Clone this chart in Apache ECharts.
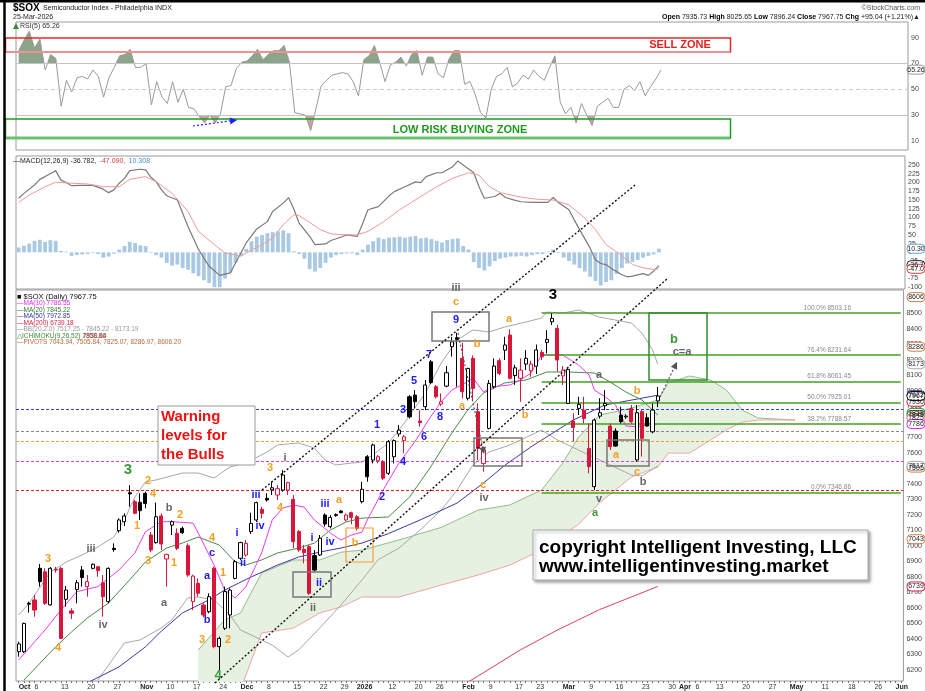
<!DOCTYPE html>
<html>
<head>
<meta charset="utf-8">
<script src="https://cdn.jsdelivr.net/npm/echarts@6/dist/echarts.min.js"></script>
<style>
html,body{margin:0;padding:0;background:#fff}
#main{width:925px;height:691px}
</style>
</head>
<body>
<div id="main"></div>
<script>
// ---- daily candles, Oct 1 2025 .. Mar 26 2026 : [open, high, low, close]
var ohlc = [
 [6318,6383,6286,6368],[6318,6505,6310,6501],[6630,6641,6570,6625],[6652,6684,6544,6587],[6856,6884,6738,6770],
 [6834,6856,6620,6630],[6620,6864,6615,6856],[6850,6866,6828,6845],[6856,6866,6400,6404],[6656,6742,6609,6716],
 [6581,6598,6529,6566],[6720,6781,6630,6763],[6845,6871,6738,6796],[6738,6813,6673,6770],[6856,6888,6850,6882],
 [6866,6870,6802,6841],[6763,6813,6544,6673],[6641,6862,6630,6856],[6985,7017,6963,6977],[7099,7178,7086,7168],
 [7157,7211,7129,7194],[7344,7393,7254,7336],[7286,7297,7206,7211],[7282,7340,7168,7228],[7340,7350,7243,7275],
 [7071,7090,6960,6974],[7022,7280,7015,7189],[7194,7211,6974,7013],[6916,6950,6738,6946],[7135,7165,7071,7157],
 [7082,7114,6974,6985],[7114,7125,7077,7086],[7002,7017,6802,6813],[6641,6815,6587,6806],[6759,6791,6673,6695],
 [6619,6630,6540,6555],[6576,6695,6566,6673],[6856,6867,6340,6351],[6351,6415,6179,6404],[6469,6738,6458,6706],
 [6555,6727,6469,6716],[6791,6910,6785,6899],[6921,7028,6910,7022],[6942,7039,6931,7017],[7093,7215,7078,7146],
 [7168,7286,7157,7280],[7237,7254,7178,7211],[7308,7340,7286,7297],[7362,7415,7329,7376],[7329,7394,7297,7370],
 [7361,7490,7351,7458],[7361,7415,7329,7409],[7301,7329,6985,7028],[7093,7103,6963,6974],[6979,7007,6888,6957],
 [6996,7007,6684,6695],[6938,6974,6834,6845],[6942,7071,6936,7050],[7200,7211,7125,7142],[7125,7200,7114,7185],
 [7196,7211,7189,7203],[7226,7232,7211,7215],[7168,7210,7160,7200],[7215,7222,7140,7185],[7189,7200,7100,7114],
 [7286,7415,7275,7366],[7576,7587,7415,7447],[7555,7662,7533,7652],[7550,7587,7533,7576],[7544,7555,7426,7437],
 [7469,7684,7458,7673],[7576,7688,7533,7680],[7723,7781,7705,7748],[7680,7716,7598,7705],[7963,7974,7823,7834],
 [7974,8006,7888,7931],[7807,7877,7770,7796],[7899,8071,7877,8039],[8189,8200,8045,8054],[8028,8039,7953,7963],
 [7916,7985,7903,7931],[8032,8161,8024,8118],[8286,8350,8222,8318],[8344,8376,8028,8333],[8211,8312,7953,7996],
 [7953,8150,7940,8146],[8211,8230,7940,8017],[7867,7920,7555,7630],[7533,7641,7480,7620],[7759,8071,7753,8049],
 [8028,8211,8017,8161],[8196,8211,8103,8114],[8264,8350,8200,8297],[8361,8398,8075,8082],[8100,8170,8040,8150],
 [8082,8211,7931,8135],[8174,8264,8135,8211],[8131,8195,8092,8174],[8160,8300,8110,8265],[8249,8265,8200,8221],
 [8314,8393,8243,8333],[8447,8501,8426,8469],[8404,8426,8125,8200],[8097,8161,8039,8135],[7920,8146,7916,8140],
 [7806,7856,7673,7765],[7888,7963,7845,7914],[7877,7963,7791,7823],[7630,7791,7469,7512],[7383,7823,7361,7813],
 [7838,7953,7823,7860],[7905,8006,7877,7920],[7774,7791,7619,7641],[7742,7760,7640,7645],[7845,7899,7791,7802],
 [7833,7850,7820,7838],[7888,7910,7791,7802],[7555,7910,7544,7860],[7867,7877,7577,7695],[7828,7856,7770,7774],
 [7737,7920,7727,7877],[7936,8026,7896,7968]
];

// ---- overlays: [day index, value]
var ma10 = [[0,6265],[5,6458],[8,6587],[11,6705],[15,6738],[19,6845],[22,6955],[24,7092],[27,7157],[29,7157],[33,7148],[34,7084],[37,6877],[39,6716],[41,6665],[43,6736],[46,6955],[48,7168],[50,7245],[52,7264],[54,7252],[56,7168],[59,7084],[61,7039],[63,7071],[65,7090],[66,7168],[69,7361],[72,7535],[75,7673],[78,7834],[80,7931],[82,8006],[85,8060],[86,8084],[88,7995],[90,8028],[93,8039],[95,8071],[97,8116],[99,8232],[103,8232],[106,8168],[108,8103],[109,8006],[111,7963],[113,7910],[115,7774],[117,7770],[119,7781],[121,7787]];
var ma20 = [[1,6135],[7,6349],[10,6445],[13,6535],[17,6632],[21,6781],[24,6897],[28,6987],[31,7019],[34,7058],[38,7006],[41,6897],[43,6877],[46,6910],[49,6955],[53,6987],[56,7019],[59,7103],[62,7155],[65,7180],[70,7187],[74,7316],[78,7510],[82,7729],[85,7877],[88,7987],[92,8052],[96,8071],[100,8123],[104,8123],[109,8116],[112,8058],[115,7993],[118,7942],[121,7845]];
var ma50 = [[12,6100],[19,6220],[24,6349],[27,6450],[31,6568],[36,6652],[39,6716],[44,6800],[49,6877],[53,6929],[57,6961],[61,6987],[65,7019],[70,7080],[76,7168],[83,7277],[88,7406],[92,7520],[97,7640],[105,7813],[111,7910],[121,7973]];
var ma200 = [[85,6120],[95,6330],[102,6458],[110,6590],[121,6739]];
var bbUpper = [[0,6555],[2,6632],[6,6832],[9,6897],[12,6942],[15,6994],[18,7058],[20,7168],[22,7316],[24,7413],[26,7426],[31,7471],[34,7471],[37,7439],[40,7510],[43,7535],[47,7606],[49,7652],[53,7665],[56,7632],[58,7555],[60,7523],[63,7535],[65,7542],[67,7587],[70,7665],[73,7793],[77,7987],[80,8181],[83,8329],[86,8394],[89,8381],[92,8413],[96,8445],[99,8471],[100,8510],[103,8503],[106,8523],[110,8477],[113,8458],[116,8439],[118,8374],[120,8265],[121,8173]];
var bbLower = [[15,6135],[20,6374],[23,6394],[27,6471],[29,6523],[32,6665],[34,6671],[37,6652],[40,6555],[42,6458],[44,6426],[48,6361],[51,6284],[53,6329],[57,6471],[61,6619],[65,6781],[68,6910],[72,6987],[76,7103],[80,7232],[83,7361],[86,7523],[89,7606],[93,7652],[99,7748],[102,7684],[108,7587],[112,7523],[116,7458],[118,7452],[121,7517]];
var cloudIdx = [34,39,42,46,52,57,61,65,72,80,87,93,99,103,106,110,116,121,123,127,131,134,137,140,147];
var spanA = [6329,6523,6568,6826,6910,6910,6960,6974,7039,7120,7232,7265,7361,7535,7703,7845,7890,7942,8052,8097,8071,8006,7877,7826,7813];
var spanB = [6000,6050,6071,6439,6470,6568,6606,6671,6671,6748,6813,6877,6974,7071,7140,7280,7445,7510,7600,7600,7684,7750,7800,7813,7813];

// ---- RSI(5), one value per day
var rsi5 = [80,88,95,82,89,65,77,74,37,57,48,59,60,58,65,60,44,59,67,76,77,81,67,67,70,38,56,44,39,56,40,50,36,35,29,24,30,24,31,52,53,66,71,72,76,81,73,77,80,80,84,71,32,31,30,18,35,53,57,61,62,63,62,56,45,73,76,84,71,56,69,71,75,68,77,80,61,75,75,62,59,73,80,80,54,56,46,32,28,50,60,62,67,52,55,61,58,65,60,57,67,76,40,31,36,24,39,30,22,37,40,43,36,36,50,53,49,56,45,52,58,65.26];

// ---- MACD(12,26,9)
var macdLine = [[0,155],[1,169],[3,193],[4,209],[5,217],[7,234],[8,207],[9,200],[10,191],[12,192],[14,192],[16,181],[17,171],[18,179],[19,198],[20,212],[21,234],[23,238],[24,236],[25,215],[26,202],[27,179],[28,162],[30,150],[32,74],[34,8],[36,-40],[38,-66],[40,-59],[41,-30],[42,-2],[43,27],[45,67],[47,88],[48,117],[50,141],[51,157],[52,124],[53,84],[55,46],[56,22],[58,24],[59,34],[61,44],[62,50],[64,46],[65,82],[66,122],[68,131],[70,162],[71,174],[73,188],[75,202],[76,200],[77,217],[79,228],[80,228],[82,245],[83,262],[84,250],[86,228],[87,188],[88,155],[90,160],[91,169],[92,157],[94,148],[95,145],[97,143],[100,143],[101,157],[102,143],[104,122],[105,93],[106,65],[108,12],[109,-21],[110,-32],[111,-35],[112,-46],[114,-64],[115,-70],[116,-68],[118,-61],[119,-66],[120,-54],[121,-38]];
var macdSignal = [[0,143],[2,164],[5,188],[7,201],[10,198],[13,196],[16,188],[19,188],[21,209],[24,217],[26,202],[29,169],[32,117],[34,60],[37,22],[39,-2],[42,-11],[43,-2],[46,22],[48,41],[50,79],[52,108],[53,105],[55,86],[57,65],[59,53],[62,50],[64,50],[66,60],[69,88],[72,122],[76,160],[79,188],[82,212],[85,228],[87,221],[89,188],[91,171],[95,158],[98,152],[101,150],[104,136],[107,98],[109,65],[111,22],[114,-9],[116,-35],[118,-44],[120,-49],[121,-47]];
var macdHist = [14,19,25,33,36,30,35,33,4,2,-10,-8,-6,-5,-2,-5,-15,-12,-4,8,18,30,27,20,18,-2,-8,-15,-30,-38,-35,-45,-50,-60,-68,-80,-88,-100,-100,-75,-58,-30,-10,10,32,45,50,55,58,60,63,55,3,-5,-18,-48,-55,-45,-30,-15,-8,-5,-3,-3,-8,8,22,32,42,38,42,43,45,42,45,47,40,42,38,33,28,35,38,40,18,8,-28,-45,-52,-40,-25,-18,-15,-12,-12,-10,-12,-8,-5,-5,2,8,-2,-15,-25,-35,-45,-55,-70,-82,-95,-85,-80,-62,-45,-32,-28,-22,-15,-10,-6,10.31];

// ---- levels
var fibNames = ['100.0%','76.4%','61.8%','50.0%','38.2%','0.0%'];
var fibLevels = [8503.16,8231.64,8061.45,7925.01,7788.57,7346.86];
var warnLevels = [7884,7742,7673,7544,7357];
var warnColors = ['#3b3bff','#8a8a8a','#f5a030','#e040e0','#e52020'];

// ---- axis ticks
var rsiTicks = [10,30,50,70,90];
var macdTicks = [-100,-75,-50,-25,0,25,50,75,100,125,150,175,200,225,250];
var priceTicks = [6200,6300,6400,6500,6600,6700,6800,6900,7000,7100,7200,7300,7400,7500,7600,7700,7800,7900,8000,8100,8200,8300,8400,8500,8600];

var holidays = ['2025-11-27','2025-12-25','2026-01-01','2026-01-19','2026-02-16','2026-04-03','2026-05-25'];
var MON = ['Jan','Feb','Mar','Apr','May','Jun','Jul','Aug','Sep','Oct','Nov','Dec'];

function tradingDays(n){
  var out = [], d = new Date(Date.UTC(2025,9,1));
  while(out.length < n){
    var wd = d.getUTCDay(), s = d.toISOString().slice(0,10);
    if(wd > 0 && wd < 6 && holidays.indexOf(s) < 0) out.push(s);
    d.setUTCDate(d.getUTCDate()+1);
  }
  return out;
}
var dates = tradingDays(168);

var lastMonthIdx = -9;
var xLabels = dates.map(function(s,i){
  var d = new Date(s+'T00:00:00Z'), m = d.getUTCMonth();
  if(i === 0 || new Date(dates[i-1]+'T00:00:00Z').getUTCMonth() !== m){
    lastMonthIdx = i;
    return '{b|' + (m === 0 ? d.getUTCFullYear() : MON[m]) + '}';
  }
  var p = new Date(dates[i-1]+'T00:00:00Z');
  var newWeek = d.getUTCDay() < p.getUTCDay() || (d - p) > 3*86400000;
  if(newWeek && i - lastMonthIdx === 2) return '{p|' + d.getUTCDate() + '}';
  if(newWeek && i - lastMonthIdx > 2) return String(d.getUTCDate());
  return '';
});

var RED = '#d9153b';
var candleData = ohlc.map(function(d,i){
  var o=d[0], h=d[1], l=d[2], c=d[3];
  var prev = i > 0 ? ohlc[i-1][3] : o;
  var col = c < prev ? RED : '#000';
  var fill = c >= o ? '#fff' : col;
  return {value:[o,c,l,h], itemStyle:{color:fill, color0:fill, borderColor:col, borderColor0:col, borderWidth:1}};
});

var cloudBase = cloudIdx.map(function(x,i){ return [x, Math.min(spanA[i],spanB[i])]; });
var cloudBand = cloudIdx.map(function(x,i){ return [x, Math.abs(spanA[i]-spanB[i])]; });
var spanAPts = cloudIdx.map(function(x,i){ return [x, spanA[i]]; });
var spanBPts = cloudIdx.map(function(x,i){ return [x, spanB[i]]; });

var FONT = '"Liberation Sans", Arial, sans-serif';
var G = {left:16, right:17};

function ln(name, data, color, w, grid){
  return {name:name, type:'line', xAxisIndex:grid, yAxisIndex:grid, data:data, symbol:'none', showSymbol:false,
    silent:true, lineStyle:{color:color, width:w||1}, z:3};
}
function yAx(grid, min, max, ticks){
  return {type:'value', gridIndex:grid, position:'right', min:min, max:max, scale:true,
    axisLine:{show:false}, axisTick:{show:false}, splitLine:{show:false},
    axisLabel:{customValues:ticks, fontSize:7, color:'#444', margin:3, fontFamily:FONT,
      formatter:function(v){ return String(v); }}};
}
function xAx(grid, showLab){
  return {type:'category', gridIndex:grid, data:dates, boundaryGap:true,
    axisLine:{show:false},
    axisTick:{show:showLab, interval:0, alignWithLabel:true, length:2, lineStyle:{color:'#777'}},
    axisLabel:{show:showLab, interval:0, fontSize:7, color:'#333', margin:3, align:'left', fontFamily:FONT,
      formatter:function(v,i){ return xLabels[i]; },
      rich:{b:{fontWeight:'bold', fontSize:7, color:'#222', fontFamily:FONT},
            p:{fontSize:7, color:'#333', fontFamily:FONT, padding:[0,0,0,6]}}}};
}

var fibMarks = fibLevels.map(function(v){
  return [{coord:[dates[99], v], lineStyle:{color:'#43a01f', width:1.5, type:'solid'}}, {coord:[dates[167], v]}];
});
var warnMarks = warnLevels.map(function(v,i){
  return {yAxis:v, lineStyle:{color:warnColors[i], width:1, type:[3,2]}};
});

var option = {
  animation:false,
  backgroundColor:'#fff',
  grid:[
    {left:G.left, right:G.right, top:22, height:128, show:true, borderColor:'#9a9a9a', borderWidth:1},
    {left:G.left, right:G.right, top:156, height:133, show:true, borderColor:'#9a9a9a', borderWidth:1},
    {left:G.left, right:G.right, top:290, height:391, show:true, borderColor:'#9a9a9a', borderWidth:1}
  ],
  xAxis:[xAx(0,false), xAx(1,false), xAx(2,true)],
  yAxis:[yAx(0,3.0,102.2,rsiTicks), yAx(1,-105,276,macdTicks), yAx(2,6129,8652,priceTicks)],
  visualMap:[
    {type:'piecewise', show:false, seriesIndex:1, dimension:1,
      pieces:[{min:70, max:150, color:'#8aa58a'},{min:-50, max:70, color:'rgba(255,255,255,0)'}]},
    {type:'piecewise', show:false, seriesIndex:2, dimension:1,
      pieces:[{min:-50, max:30, color:'#c9a2a2'},{min:30, max:150, color:'rgba(255,255,255,0)'}]}
  ],
  series:[
    // RSI
    {type:'line', xAxisIndex:0, yAxisIndex:0, data:rsi5, symbol:'none', silent:true, z:4,
      lineStyle:{color:'#9a9a9a', width:1},
      markLine:{silent:true, symbol:['none','none'], label:{show:false},
        data:[{yAxis:70, lineStyle:{color:'#c4c4c4', type:'solid', width:1}},
              {yAxis:30, lineStyle:{color:'#c4c4c4', type:'solid', width:1}},
              {yAxis:50, lineStyle:{color:'#cccccc', type:[4,3], width:1}}]}},
    {type:'line', xAxisIndex:0, yAxisIndex:0, data:rsi5, symbol:'none', silent:true, z:2,
      lineStyle:{opacity:0}, areaStyle:{origin:70, opacity:1}},
    {type:'line', xAxisIndex:0, yAxisIndex:0, data:rsi5, symbol:'none', silent:true, z:2,
      lineStyle:{opacity:0}, areaStyle:{origin:30, opacity:1}},
    // MACD
    {type:'bar', xAxisIndex:1, yAxisIndex:1, data:macdHist, barWidth:'72%', silent:true,
      itemStyle:{color:'#a9c9e3'}},
    ln('macd', macdLine, '#7a7a7a', 1.2, 1),
    ln('signal', macdSignal, '#f19a9a', 1, 1),
    // Ichimoku cloud
    {type:'line', xAxisIndex:2, yAxisIndex:2, data:cloudBase, stack:'cloud', symbol:'none', silent:true,
      lineStyle:{opacity:0}, z:1},
    {type:'line', xAxisIndex:2, yAxisIndex:2, data:cloudBand, stack:'cloud', symbol:'none', silent:true,
      lineStyle:{opacity:0}, areaStyle:{color:'#e6f1e1', opacity:1}, z:1},
    ln('spanA', spanAPts, '#8fbf8a', 1, 2),
    ln('spanB', spanBPts, '#efa3a8', 1, 2),
    ln('bbU', bbUpper, '#a8a8a8', 1, 2),
    ln('bbL', bbLower, '#a8a8a8', 1, 2),
    ln('ma200', ma200, '#e0405e', 1, 2),
    ln('ma50', ma50, '#3a3aa8', 1, 2),
    ln('ma20', ma20, '#4a8a4a', 1, 2),
    ln('ma10', ma10, '#f03cf0', 1, 2),
    {type:'candlestick', xAxisIndex:2, yAxisIndex:2, data:candleData, barWidth:3.6, silent:true, z:6,
      markLine:{silent:true, symbol:['none','none'], label:{show:false}, data:warnMarks.concat(fibMarks)}}
  ]
};

var chart = echarts.init(document.getElementById('main'));
chart.setOption(option);

function yp(ax, v){ return chart.convertToPixel({yAxisIndex:ax}, v); }

var g = [];
function txt(x,y,t,fill,font,align,z){
  g.push({type:'text', x:x, y:y, z:z||40, silent:true,
    style:{text:t, fill:fill, font:font, align:align||'center', verticalAlign:'middle'}});
}
function lab(x,y,t,c,s){ txt(x,y,t,c,'bold '+(s||11)+'px '+FONT,'center',42); }
function box(x,y,w,h,stroke,lw,fill,z){
  g.push({type:'rect', z:z||38, silent:true, shape:{x:x,y:y,width:w,height:h},
    style:{fill:fill||'none', stroke:stroke, lineWidth:lw||1}});
}
function seg(x1,y1,x2,y2,col,w,dash,z){
  g.push({type:'line', z:z||44, silent:true, shape:{x1:x1,y1:y1,x2:x2,y2:y2},
    style:{stroke:col, lineWidth:w||1, lineDash:dash||null}});
}
function arrow(x1,y1,x2,y2,col,dash,w){
  seg(x1,y1,x2,y2,col,w||1,dash);
  var a = Math.atan2(y2-y1,x2-x1), L = 7, W = 3.5;
  var bx = x2-L*Math.cos(a), by = y2-L*Math.sin(a);
  g.push({type:'polygon', z:45, silent:true, shape:{points:[[x2,y2],[bx+W*Math.sin(a),by-W*Math.cos(a)],[bx-W*Math.sin(a),by+W*Math.cos(a)]]},
    style:{fill:col}});
}
function tag(y,t,col){
  g.push({type:'rect', z:50, silent:true, shape:{x:907,y:y-4.5,width:18,height:9,r:4},
    style:{fill:'#fff', stroke:col, lineWidth:1}});
  txt(916,y,t,'#222','7px '+FONT,'center',51);
}

// frame
seg(0,1,925,1,'#000',3,null,60);
seg(4.5,0,4.5,691,'#000',2.5,null,60);

// header
g.push({type:'text', x:13, y:8, z:40, silent:true, style:{text:'{a|$SOX} {c|Semiconductor Index - Philadelphia INDX}',
  verticalAlign:'middle', rich:{a:{font:'bold 10px '+FONT, fill:'#000'}, c:{font:'7px '+FONT, fill:'#222'}}}});
txt(13,17,'25-Mar-2026','#222','7px '+FONT,'left');
txt(920,8,'\u00a9StockCharts.com','#555','7px '+FONT,'right');
g.push({type:'text', x:920, y:17, z:40, silent:true, style:{
  text:'{k|Open} 7935.73 {k|High} 8025.65 {k|Low} 7896.24 {k|Close} 7967.75 {k|Chg} +95.04 (+1.21%)\u25b2',
  align:'right', verticalAlign:'middle', font:'7px '+FONT, fill:'#222',
  rich:{k:{font:'bold 7px '+FONT, fill:'#000'}}}});

// RSI panel
txt(20,26,'RSI(5) 65.26','#333','7px '+FONT,'left');
g.push({type:'polygon', z:40, silent:true, shape:{points:[[13,29],[16,23],[19,29]]}, style:{fill:'#3a8a3a'}});
box(5.5,38,725,14,'#e52a2a',1.5);
seg(6,52,730,52,'#f09090',2);
txt(680,45,'SELL ZONE','#e52020','bold 11px '+FONT);
box(5.5,119,725,19,'#1f9a1f',1.5);
seg(6,138,730,138,'#6cc06c',3);
txt(460,130,'LOW RISK BUYING ZONE','#1f9a1f','bold 11px '+FONT);
arrow(193,126,237,120,'#2020ff',[2,2],1.2);

// MACD legend
g.push({type:'text', x:13, y:161, z:40, silent:true, style:{
  text:'{k|\u2014MACD(12,26,9) -36.782,} {r|-47.090,} {b|10.308}', verticalAlign:'middle',
  rich:{k:{font:'7px '+FONT, fill:'#222'}, r:{font:'7px '+FONT, fill:'#e23b3b'}, b:{font:'7px '+FONT, fill:'#4a90c8'}}}});

// price legend
var legY = 297, legStep = 6.5;
var legs = [
  ['\u25a0 $SOX (Daily) 7967.75','#111'],
  ['\u2014MA(10) 7786.55','#ee22ee'],
  ['\u2014MA(20) 7845.22','#2e7d32'],
  ['\u2014MA(50) 7972.85','#3333aa'],
  ['\u2014MA(200) 6739.18','#dd2244'],
  ['\u2014BB(20,2.0) 7517.25 - 7845.22 - 8173.19','#999'],
  ['\u25b3ICHIMOKU(9,26,52) 7858.86 ','#3a8a3a'],
  ['\u2014PIVOTS 7043.94, 7505.84, 7825.07, 8286.97, 8606.20','#bb6a3a']
];
legs.forEach(function(l,i){ txt(17, legY+i*legStep, l[0], l[1], (i===0?'7.5px ':'6.5px ')+FONT, 'left'); });
txt(83, legY+6*legStep, '7930.64', '#dd2244', '6.5px '+FONT, 'left');

// channel lines
seg(262,490,635,185,'#111',1.4,[2,2]);
seg(215,683,668,278,'#111',1.4,[2,2]);

// boxes
box(158,406,97,59,'#9a9a9a',1,'#fff',39);
txt(161,417,'Warning','#ee1111','bold 15px '+FONT,'left');
txt(161,436,'levels for','#ee1111','bold 15px '+FONT,'left');
txt(161,455,'the Bulls','#ee1111','bold 15px '+FONT,'left');
box(293,572,38,25,'#777',1.5);
box(346,528,27,34,'#f5a030',1.2);
box(432,312,57,29,'#777',1.5);
box(474,438,48,28,'#777',1.5);
box(607,440,42,26,'#777',1.5);
box(649,313,58,67,'#2f8f2f',1.5);
arrow(458,333,484,454,'#555',[2,2],1.2);
arrow(660,397,677,362,'#555',[2,2],1.2);

// fib labels
fibLevels.forEach(function(v,i){
  txt(851, yp(2,v)-5, fibNames[i]+' '+v.toFixed(2), '#888', '6.5px '+FONT, 'right');
});

// copyright
g.push({type:'rect', z:39, silent:true, shape:{x:533,y:530,width:335,height:50},
  style:{fill:'#fff', stroke:'#aaa', lineWidth:1, shadowBlur:3, shadowOffsetX:2, shadowOffsetY:2, shadowColor:'rgba(0,0,0,0.35)'}});
txt(539,548,'copyright Intelligent Investing, LLC','#000','bold 19px '+FONT,'left');
txt(539,567,'www.intelligentinvesting.market','#000','bold 19px '+FONT,'left');

// wave labels
var OR='#f5a020', BL='#1c1cff', GR='#666', GN='#3a9a3a';
[
 [128,470,'3',GN,15],[148,481,'2',OR],[153,494,'4',OR],[137,526,'1',OR],[169,508,'b',GR],
 [48,559,'3',OR],[91,549,'iii',GR],[148,561,'3',OR],[164,603,'a',GR],[103,625,'iv',GR],[58,648,'4',OR],
 [180,515,'2',OR],[174,563,'1',OR],[212,538,'4',OR],[212,553,'c',BL],[207,576,'a',BL],[223,573,'1',OR],
 [207,620,'b',BL],[202,640,'3',OR],[228,640,'2',OR],[218,675,'4',GN,13],[237,533,'i',BL],[243,563,'ii',BL],
 [270,468,'3',OR],[285,458,'i',GR],[256,495,'iii',BL],[260,526,'iv',BL],[280,508,'4',OR],[312,538,'i',BL],
 [319,583,'ii',BL],[313,608,'ii',GR],[325,504,'iii',BL],[339,500,'a',OR],[330,542,'iv',BL],[355,543,'b',OR],
 [377,425,'1',BL],[382,497,'2',BL],[403,410,'3',BL],[403,462,'4',BL],[414,381,'5',BL],[424,437,'6',BL],
 [429,355,'7',BL],[440,417,'8',BL],[456,320,'9',BL],[456,288,'iii',GR],[456,302,'c',OR],[477,344,'b',OR],
 [462,406,'a',OR],[509,319,'a',OR],[525,415,'b',OR],[483,485,'c',OR],[484,498,'iv',GR],
 [553,295,'3','#000',15],[599,375,'a',GR],[637,391,'b',OR],[616,455,'a',OR],[637,472,'c',OR],[643,482,'b',GR],
 [599,499,'v',GR],[595,513,'a',GN],[674,339,'b',GN,13],[682,352,'c=a',GR,11]
].forEach(function(l){ lab(l[0],l[1],l[2],l[3],l[4]); });

// right axis tags
tag(yp(0,65.26),'65.26','#999');
tag(yp(1,10.31),'10.30','#6aa5d5');
tag(yp(1,-36.78),'-36.7','#222');
tag(yp(1,-47.09),'-47.0','#e04040');
[[8606,'8606','#d08050'],[8286,'8286','#d08050'],[8173,'8173','#aaa'],[7973,'7972','#3333aa'],
 [7931,'7930','#dd2244'],[7968,'7967','#111'],[7859,'7858','#3a8a3a'],[7845,'7845','#2e7d32'],
 [7825,'7825','#d08050'],[7787,'7786','#ee22ee'],[7506,'7505','#d08050'],[7517,'7517','#aaa'],
 [7044,'7043','#d08050'],[6739,'6739','#dd2244']
].forEach(function(t){ tag(yp(2,t[0]), t[1], t[2]); });

chart.setOption({graphic:g});
</script>
</body>
</html>
